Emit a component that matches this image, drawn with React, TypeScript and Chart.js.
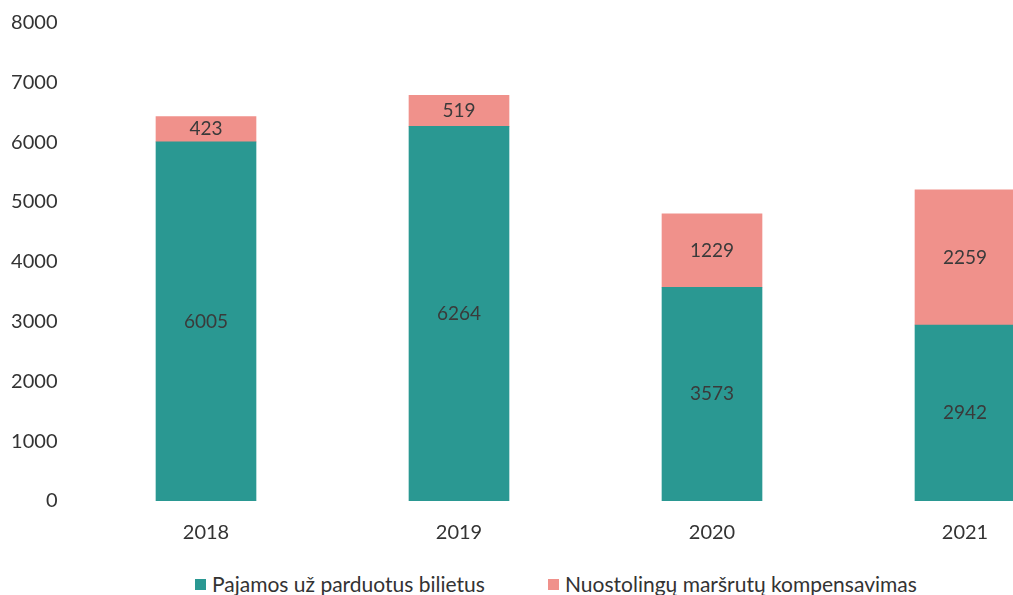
import React, { useEffect, useRef } from "react";
import { Chart, registerables } from "chart.js";

Chart.register(...registerables);

const categories = ["2018", "2019", "2020", "2021"];
const ticketIncome = [6005, 6264, 3573, 2942];
const compensation = [423, 519, 1229, 2259];
const seriesNames = ["Pajamos už parduotus bilietus", "Nuostolingų maršrutų kompensavimas"];
const yTicks = [0, 1000, 2000, 3000, 4000, 5000, 6000, 7000, 8000];

const TEAL = "#2a9892";
const PINK = "#f0918b";
const FONT = "Lato, 'Open Sans', sans-serif";

const valueLabels = {
  id: "valueLabels",
  afterDatasetsDraw(chart: any) {
    const ctx = chart.ctx;
    ctx.save();
    ctx.font = `19px ${FONT}`;
    ctx.fillStyle = "#3a3a3a";
    ctx.textAlign = "center";
    ctx.textBaseline = "middle";
    chart.data.datasets.forEach((ds: any, di: number) => {
      const meta = chart.getDatasetMeta(di);
      meta.data.forEach((el: any, i: number) => {
        const v = ds.data[i];
        const cy = (el.y + el.base) / 2;
        ctx.fillText(String(v), el.x, cy);
      });
    });
    ctx.restore();
  },
};

export default function App() {
  const ref = useRef<HTMLCanvasElement | null>(null);

  useEffect(() => {
    document.documentElement.style.overflow = "hidden";
    document.body.style.margin = "0";
    const canvas = ref.current!;
    const chart = new Chart(canvas, {
      type: "bar",
      data: {
        labels: categories,
        datasets: [
          { label: seriesNames[0], data: ticketIncome, backgroundColor: TEAL, borderWidth: 0 },
          { label: seriesNames[1], data: compensation, backgroundColor: PINK, borderWidth: 0 },
        ],
      },
      options: {
        responsive: false,
        animation: false,
        events: [],
        layout: { padding: { top: 14.5, right: 16.5, left: 0, bottom: 0 } },
        datasets: { bar: { barThickness: 100 } },
        plugins: {
          legend: { display: false },
          tooltip: { enabled: false },
        },
        scales: {
          x: {
            stacked: true,
            grid: { display: false, drawTicks: false },
            border: { display: false },
            afterFit: (s: any) => {
              s.height = 44;
              s.paddingLeft = 0;
              s.paddingRight = 0;
            },
            ticks: { color: "#333", font: { family: FONT, size: 20 }, padding: 20 },
          },
          y: {
            stacked: true,
            min: 0,
            max: 8000,
            grid: { display: false, drawTicks: false },
            border: { display: false },
            afterFit: (s: any) => {
              s.width = 71.5;
              s.paddingTop = 0;
              s.paddingBottom = 0;
            },
            afterBuildTicks: (s: any) => {
              s.ticks = yTicks.map((v) => ({ value: v }));
            },
            ticks: {
              color: "#333",
              font: { family: FONT, size: 20 },
              padding: 22,
              callback: (v: any) => String(v),
            },
          },
        },
      },
      plugins: [valueLabels],
    });
    return () => chart.destroy();
  }, []);

  const item = (color: string, text: string, left: number) => (
    <div
      style={{
        position: "absolute",
        left,
        top: 0,
        height: 22,
        display: "flex",
        alignItems: "center",
        whiteSpace: "nowrap",
      }}
    >
      <span style={{ display: "inline-block", width: 11, height: 11, background: color, marginRight: 6 }} />
      <span style={{ fontFamily: FONT, fontSize: 21, color: "#333", lineHeight: "22px" }}>{text}</span>
    </div>
  );

  return (
    <div style={{ position: "relative", width: 1013, height: 595, overflow: "hidden" }}>
      <canvas
        ref={ref}
        width={1100}
        height={537}
        style={{ position: "absolute", left: 8, top: 8, display: "block", width: 1100, height: 537 }}
      />
      <div style={{ position: "absolute", left: 0, top: 573, width: 1013, height: 22 }}>
        {item(TEAL, seriesNames[0], 195)}
        {item(PINK, seriesNames[1], 548)}
      </div>
    </div>
  );
}
